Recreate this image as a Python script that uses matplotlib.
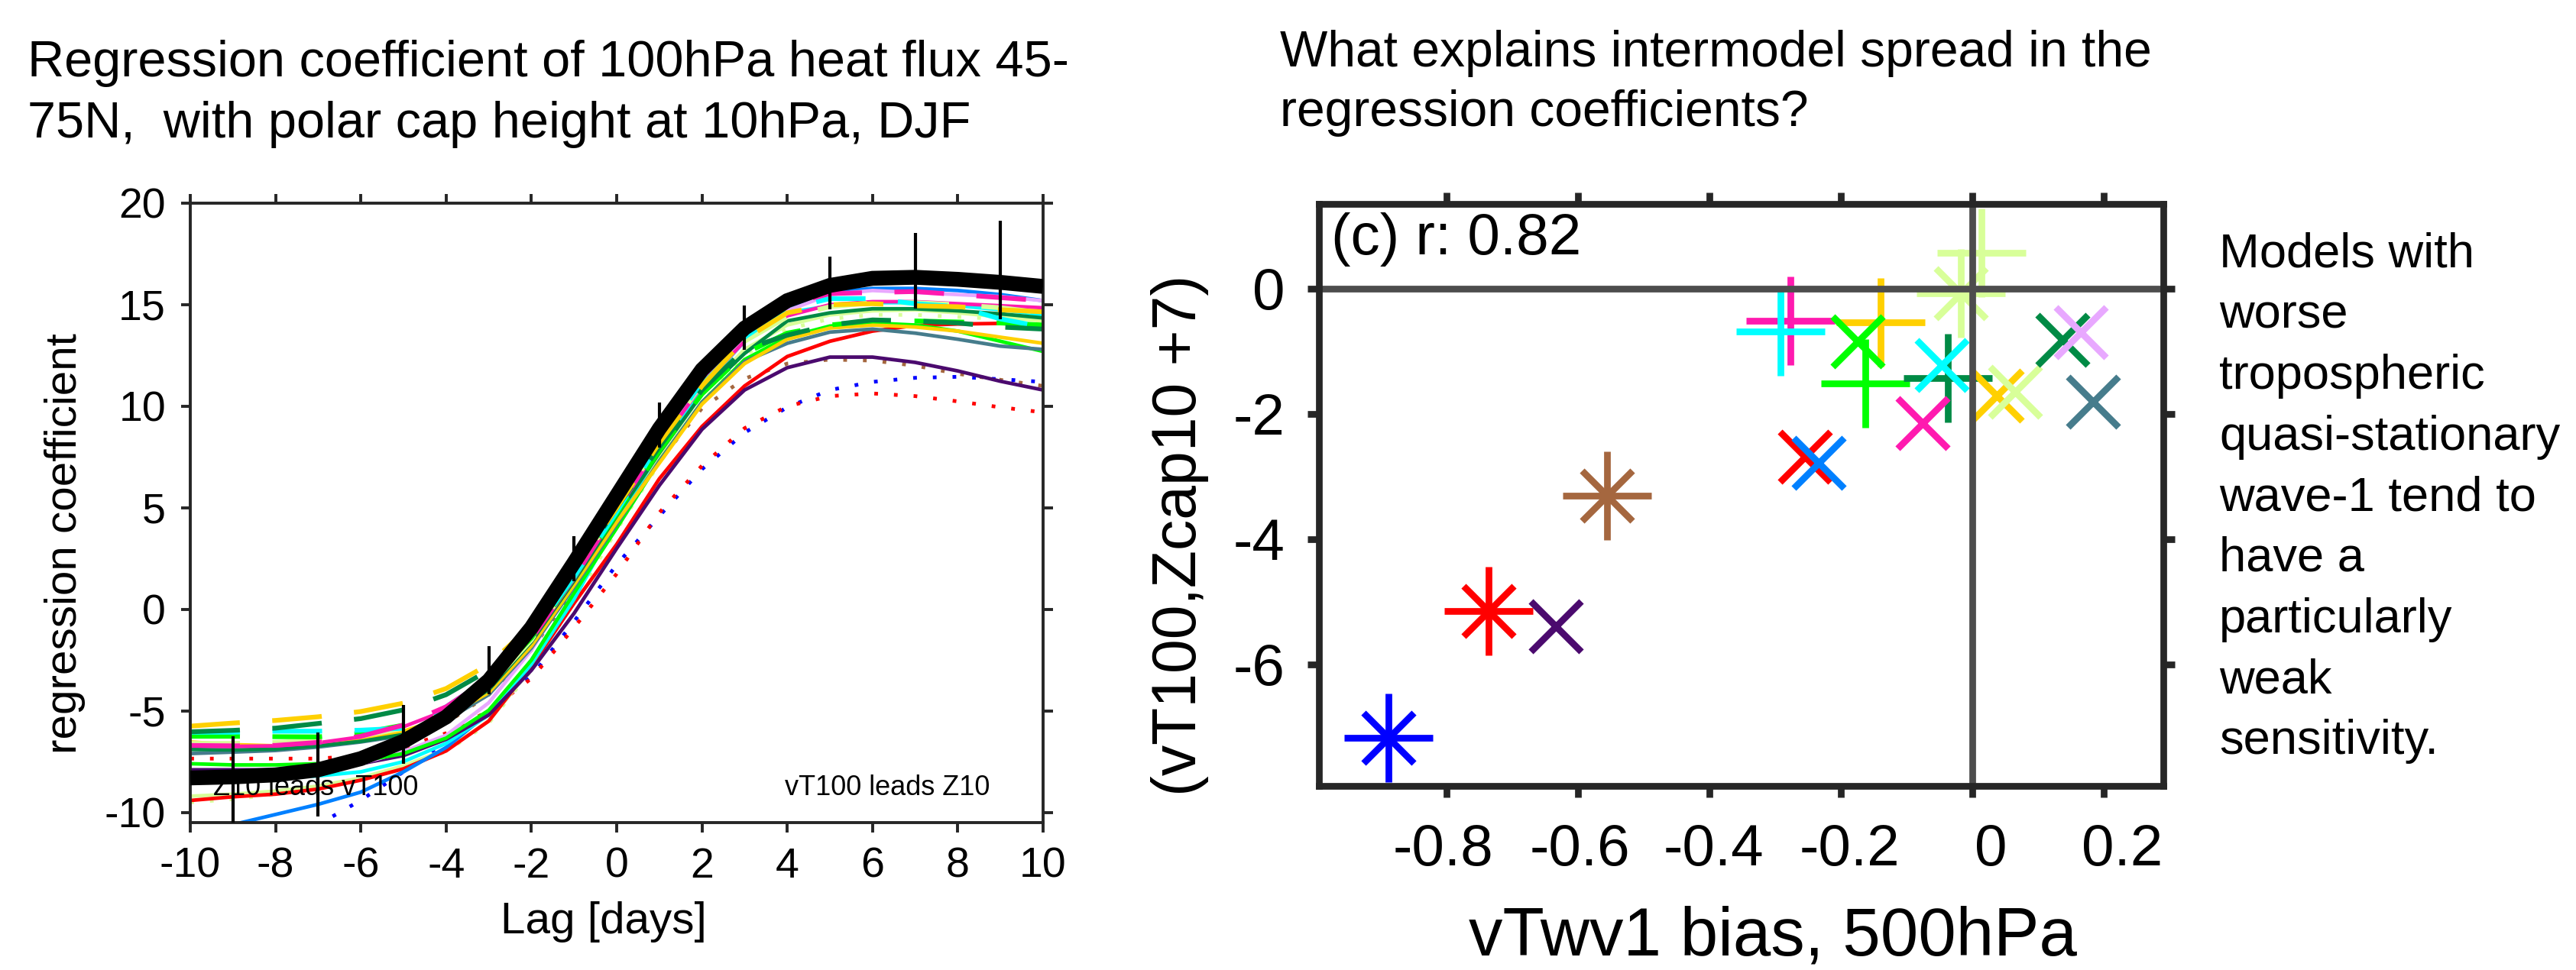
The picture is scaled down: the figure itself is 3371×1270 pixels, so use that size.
import matplotlib
matplotlib.use("Agg")
import matplotlib.pyplot as plt
from matplotlib.transforms import ScaledTranslation

plt.rcParams['font.family'] = ['Liberation Sans', 'DejaVu Sans']
plt.rcParams['axes.unicode_minus'] = False

# ---------------- data: left panel (regression coefficient vs lag) ----------------
lags = list(range(-10, 11))

obs_line = [-8.3, -8.25, -8.15, -7.9, -7.35, -6.5, -5.3, -3.5, -0.9, 2.3, 5.6,
            8.9, 11.8, 13.85, 15.2, 15.95, 16.3, 16.35, 16.25, 16.1, 15.9]

err_lags = [-9, -7, -5, -3, -1, 1, 3, 5, 7, 9]
err_low = [-10.6, -10.2, -7.6, -4.2, 1.4, 7.95, 12.77, 14.78, 14.8, 14.3]
err_high = [-6.25, -6.05, -4.7, -1.8, 3.6, 10.2, 14.95, 17.35, 18.55, 19.15]

blue_dotted = [-13.5, -12.5, -11.5, -10.6, -9.4, -8.0, -6.5, -5.0, -3.3, -0.6, 2.2,
               4.6, 6.9, 8.7, 9.95, 10.8, 11.2, 11.4, 11.45, 11.33, 11.2]
red_dotted = [-7.35, -7.35, -7.35, -7.35, -7.2, -6.8, -6.1, -5.0, -3.4, -0.9, 1.75,
              4.76, 7.07, 8.92, 10.0, 10.5, 10.63, 10.5, 10.24, 9.95, 9.7]
brown_dotted = [-8.2, -8.15, -8.05, -7.8, -7.3, -6.6, -5.6, -4.2, -2.0, 1.0, 4.3,
                7.3, 9.9, 11.36, 12.1, 12.3, 12.25, 12.0, 11.6, 11.3, 11.0]
lgreen_dotted = [-9.5, -9.35, -9.1, -8.8, -8.4, -7.8, -7.0, -5.6, -3.0, 0.4, 3.9,
                 7.2, 10.2, 12.5, 13.8, 14.3, 14.5, 14.5, 14.4, 14.3, 14.1]

purple_solid = [-7.9, -7.9, -7.9, -7.8, -7.6, -7.2, -6.4, -5.2, -3.0, -0.2, 3.0,
                6.1, 8.86, 10.8, 11.9, 12.42, 12.42, 12.16, 11.74, 11.23, 10.8]
red_solid = [-9.41, -9.23, -9.1, -8.85, -8.41, -7.85, -6.97, -5.5, -2.8, 0.3, 3.2,
             6.43, 9.0, 11.0, 12.45, 13.2, 13.7, 13.98, 14.05, 14.08, 14.0]
dodger_solid = [-11.3, -10.6, -10.1, -9.6, -9.0, -8.0, -6.8, -5.1, -2.5, 0.8, 4.5,
                8.0, 11.0, 13.3, 14.7, 15.6, 15.8, 15.8, 15.7, 15.5, 15.2]
cyan_solid = [-8.5, -8.4, -8.3, -8.2, -8.0, -7.5, -6.6, -5.2, -2.7, 0.5, 4.3,
              7.8, 10.9, 13.2, 14.6, 14.95, 15.1, 15.1, 14.95, 14.75, 14.5]
pink_solid = [-6.72, -6.75, -6.72, -6.57, -6.28, -5.78, -4.97, -3.84, -1.5, 1.5, 4.8,
              8.1, 11.0, 13.2, 14.45, 15.0, 15.15, 15.15, 15.05, 14.95, 14.85]
plum_solid = [-8.4, -8.35, -8.25, -8.0, -7.6, -7.0, -6.2, -4.6, -2.0, 1.3, 5.0,
              8.4, 11.2, 13.4, 14.7, 15.5, 15.7, 15.6, 15.5, 15.4, 15.2]
gold_solid = [-6.53, -6.66, -6.72, -6.62, -6.4, -6.0, -5.3, -4.1, -1.8, 1.2, 4.3,
              7.2, 10.1, 12.1, 13.3, 13.85, 14.0, 13.9, 13.7, 13.4, 13.1]
dgreen_solid = [-6.9, -6.92, -6.88, -6.72, -6.5, -6.16, -5.3, -3.96, -1.6, 1.4, 4.6,
                7.7, 10.6, 12.6, 14.2, 14.6, 14.8, 14.8, 14.7, 14.55, 14.35]
lime_solid = [-7.6, -7.66, -7.66, -7.6, -7.47, -7.1, -6.34, -4.97, -2.5, 0.8, 4.0,
              7.3, 10.2, 12.3, 13.4, 13.95, 14.1, 14.0, 13.7, 13.2, 12.7]
slate_solid = [-7.1, -7.03, -6.95, -6.78, -6.53, -6.22, -5.47, -4.2, -1.9, 1.1, 4.2,
               7.3, 10.2, 12.2, 13.1, 13.65, 13.8, 13.6, 13.3, 12.96, 12.8]
lgreen_solid = [-9.2, -9.1, -8.95, -8.7, -8.3, -7.7, -6.9, -5.5, -2.9, 0.6, 4.2,
                7.6, 10.6, 12.8, 14.0, 14.5, 14.7, 14.75, 14.6, 14.4, 14.2]

cyan_dashed = [-6.05, -6.05, -6.0, -6.0, -5.95, -5.85, -4.8, -3.4, -1.3, 1.6, 4.8,
               8.2, 11.2, 13.4, 14.8, 15.3, 15.3, 15.05, 14.9, 14.3, 13.9]
pink_dashed = [-6.7, -6.72, -6.7, -6.55, -6.25, -5.7, -4.8, -3.4, -1.0, 2.1, 5.3,
               8.5, 11.4, 13.6, 15.0, 15.55, 15.6, 15.65, 15.5, 15.35, 15.2]
gold_dashed = [-5.75, -5.6, -5.47, -5.29, -5.03, -4.62, -3.9, -2.71, -0.8, 1.9, 5.0,
               8.2, 11.0, 13.3, 14.6, 15.0, 15.05, 14.95, 14.9, 14.75, 14.65]
dgreen_dashed = [-6.03, -5.96, -5.85, -5.62, -5.38, -4.95, -4.2, -3.0, -0.9, 1.9, 5.0,
                 8.0, 10.8, 12.8, 13.5, 14.0, 14.25, 14.2, 14.1, 13.9, 13.8]
lime_dashed = [-6.25, -6.25, -6.27, -6.28, -6.1, -5.7, -4.9, -3.6, -1.4, 1.6, 4.7,
               7.8, 10.6, 12.6, 13.6, 14.0, 14.2, 14.2, 14.15, 14.1, 14.0]
lgreen_dashed = [-6.6, -6.6, -6.55, -6.45, -6.25, -5.85, -5.1, -3.8, -1.5, 1.7, 5.0,
                 8.2, 11.1, 13.2, 14.4, 14.9, 15.1, 15.1, 15.0, 14.85, 14.6]

# ---------------- data: right panel (scatter) ----------------
star_x = [-0.888, -0.736, -0.556, -0.017]
star_y = [-7.17, -5.15, -3.31, -0.08]
plus_x = [-0.276, -0.292, -0.139, -0.162, -0.037, 0.014]
plus_y = [-0.52, -0.68, -0.54, -1.52, -1.43, 0.57]
cross_x = [-0.634, -0.254, -0.234, -0.174, -0.046, -0.075, 0.037, 0.065, 0.137, 0.165, 0.184]
cross_y = [-5.39, -2.68, -2.78, -0.84, -1.22, -2.15, -1.71, -1.65, -0.82, -0.70, -1.81]

x2_ticks = [-0.8, -0.6, -0.4, -0.2, 0, 0.2]
x2_ticklabels = ['-0.8', '-0.6', '-0.4', '-0.2', '0', '0.2']
y2_ticks = [-6, -4, -2, 0]
y2_ticklabels = ['-6', '-4', '-2', '0']

# colours
C_BLUE, C_RED, C_BROWN = '#0000ff', '#ff0000', '#a5673f'
C_PURPLE, C_DODGER, C_CYAN = '#4b0a6e', '#0080ff', '#00ffff'
C_PINK, C_PLUM, C_GOLD = '#ff1aaf', '#e8a8ff', '#ffd000'
C_DGREEN, C_LIME, C_SLATE, C_LGREEN = '#008a45', '#00ff00', '#467c8c', '#d8ff99'

star_c = [C_BLUE, C_RED, C_BROWN, C_LGREEN]
plus_c = [C_PINK, C_CYAN, C_GOLD, C_LIME, C_DGREEN, C_LGREEN]
cross_c = [C_PURPLE, C_RED, C_DODGER, C_LIME, C_CYAN, C_PINK, C_GOLD, C_LGREEN,
           C_DGREEN, C_PLUM, C_SLATE]

# ---------------- figure ----------------
W, H = 3371, 1270
fig = plt.figure(figsize=(W / 100, H / 100), dpi=100)

def fx(px):
    return px / W

def fy(py):
    return 1 - py / H

SPINE = '#262626'

# ---- left axes ----
ax1 = fig.add_axes([fx(249), fy(1077), fx(1365) - fx(249), fy(266) - fy(1077)])
DOT = (0, (1, 4.3))
DASH = (0, (10.4, 6.8))
LW_S, LW_D, LW_O = 3.4, 4.5, 3.5
model_lines = [
    (blue_dotted, C_BLUE, DOT, LW_O), (red_dotted, C_RED, DOT, LW_O),
    (brown_dotted, C_BROWN, DOT, LW_O), (lgreen_dotted, C_LGREEN, DOT, LW_O),
    (lgreen_solid, C_LGREEN, '-', LW_S), (red_solid, C_RED, '-', LW_S),
    (dodger_solid, C_DODGER, '-', LW_S), (cyan_solid, C_CYAN, '-', LW_S),
    (purple_solid, C_PURPLE, '-', LW_S), (plum_solid, C_PLUM, '-', LW_S),
    (lime_solid, C_LIME, '-', LW_S), (slate_solid, C_SLATE, '-', LW_S),
    (gold_solid, C_GOLD, '-', LW_S), (dgreen_solid, C_DGREEN, '-', LW_S),
    (pink_solid, C_PINK, '-', LW_S),
    (lgreen_dashed, C_LGREEN, DASH, LW_D), (lime_dashed, C_LIME, DASH, LW_D),
    (cyan_dashed, C_CYAN, DASH, LW_D), (dgreen_dashed, C_DGREEN, DASH, LW_D),
    (gold_dashed, C_GOLD, DASH, LW_D), (pink_dashed, C_PINK, DASH, LW_D),
]
for vals, col, ls, lw in model_lines:
    ax1.plot(lags, vals, color=col, linestyle=ls, linewidth=lw, zorder=2)

ax1.text(-9.46, -8.8, 'Z10 leads vT100', fontsize=26, ha='left', va='center', zorder=3)
ax1.text(8.75, -8.8, 'vT100 leads Z10', fontsize=26, ha='right', va='center', zorder=3)

ax1.plot(lags, obs_line, color='black', linewidth=14, solid_joinstyle='miter',
         solid_capstyle='butt', zorder=4)
ax1.vlines(err_lags, err_low, err_high, color='black', linewidth=3, zorder=5)

ax1.set_xlim(-10, 10)
ax1.set_ylim(-10.5, 20)
ax1.set_xticks(range(-10, 11, 2))
ax1.set_yticks(range(-10, 21, 5))
ax1.tick_params(direction='out', length=9, width=2.8, color=SPINE,
                top=True, right=True, labelsize=40, pad=14)
for s in ax1.spines.values():
    s.set_linewidth(2.8)
    s.set_color(SPINE)
ax1.set_xlabel('Lag [days]', fontsize=42)
ax1.set_ylabel('regression coefficient', fontsize=42)
ax1.xaxis.set_label_coords(0.485, -0.127)
ax1.yaxis.set_label_coords(-0.123, 0.45)

# ---- right axes ----
ax2 = fig.add_axes([fx(1726), fy(1029), fx(2831) - fx(1726), fy(267) - fy(1029)])
MEW = 6.3
for x, y, c in zip(star_x, star_y, star_c):
    ax2.plot([x], [y], marker='+', markersize=83, markeredgewidth=MEW, color=c,
             linestyle='none', zorder=2)
    ax2.plot([x], [y], marker='x', markersize=47, markeredgewidth=MEW, color=c,
             linestyle='none', zorder=2)
for x, y, c in zip(plus_x, plus_y, plus_c):
    ax2.plot([x], [y], marker='+', markersize=83, markeredgewidth=MEW, color=c,
             linestyle='none', zorder=2)
for x, y, c in zip(cross_x, cross_y, cross_c):
    ax2.plot([x], [y], marker='x', markersize=47, markeredgewidth=MEW, color=c,
             linestyle='none', zorder=2)

ax2.axhline(0, color='#4d4d4d', linewidth=6.3, zorder=3)
ax2.axvline(0, color='#4d4d4d', linewidth=6.3, zorder=3)

ax2.set_xlim(-0.994, 0.291)
ax2.set_ylim(-7.94, 1.35)
ax2.set_xticks(x2_ticks)
ax2.set_xticklabels(x2_ticklabels)
ax2.set_yticks(y2_ticks)
ax2.set_yticklabels(y2_ticklabels)
ax2.tick_params(direction='out', length=11, width=6.3, color=SPINE,
                top=True, right=True, labelsize=55)
ax2.tick_params(axis='x', pad=24)
ax2.tick_params(axis='y', pad=21)
# the reference's x tick labels sit slightly right of their ticks
label_shift_px = [-4, 3, 6, 12, 24, 24]
for lab, dx in zip(ax2.get_xticklabels(), label_shift_px):
    lab.set_transform(lab.get_transform() +
                      ScaledTranslation(dx / 100, 0, fig.dpi_scale_trans))
for s in ax2.spines.values():
    s.set_linewidth(6.3)
    s.set_color(SPINE)
    s.set_zorder(5)
ax2.set_xlabel('vTwv1 bias, 500hPa', fontsize=64)
ax2.set_ylabel('(vT100,Zcap10 +7)', fontsize=58)
ax2.xaxis.set_label_coords(0.5375, -0.205)
ax2.yaxis.set_label_coords(-0.130, 0.43)
ax2.text(0.0145, 0.985, '(c) r: 0.82', transform=ax2.transAxes, fontsize=55,
         ha='left', va='top', zorder=6)

# ---- figure texts ----
fig.text(fx(36), fy(100), 'Regression coefficient of 100hPa heat flux 45-',
         fontsize=48, ha='left', va='baseline')
fig.text(fx(36), fy(180), '75N,  with polar cap height at 10hPa, DJF',
         fontsize=48, ha='left', va='baseline')
fig.text(fx(1675), fy(87), 'What explains intermodel spread in the',
         fontsize=47.5, ha='left', va='baseline')
fig.text(fx(1675), fy(165), 'regression coefficients?',
         fontsize=47.5, ha='left', va='baseline')

note_lines = ['Models with', 'worse', 'tropospheric', 'quasi-stationary',
              'wave-1 tend to', 'have a', 'particularly', 'weak', 'sensitivity.']
for i, t in enumerate(note_lines):
    fig.text(fx(2904), fy(350 + 79.6 * i), t, fontsize=45.5, ha='left', va='baseline')

fig.savefig('out.png', dpi=100)
